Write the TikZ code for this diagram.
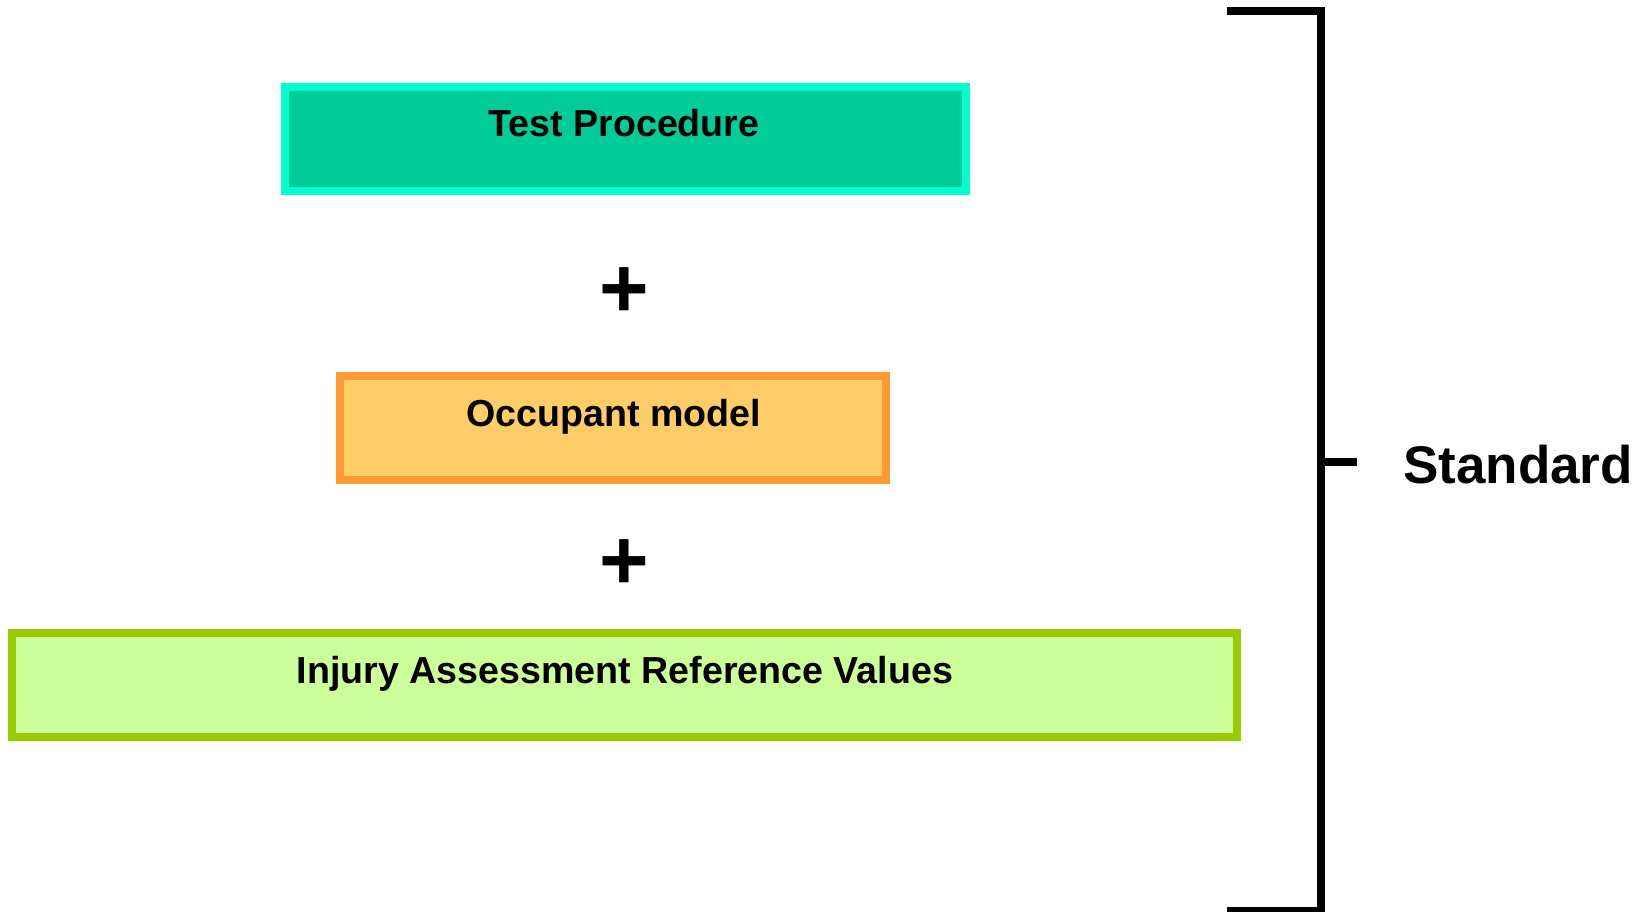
\documentclass[tikz,border=0pt]{standalone}
\usepackage{fontspec}
\setmainfont{Liberation Sans}
\definecolor{tpfill}{RGB}{0,204,153}
\definecolor{tpdraw}{RGB}{0,255,204}
\definecolor{omfill}{RGB}{255,204,102}
\definecolor{omdraw}{RGB}{255,153,51}
\definecolor{iafill}{RGB}{204,255,153}
\definecolor{iadraw}{RGB}{153,204,0}
\tikzset{
  boxrect/.style={line width=8pt},
  boxlabel/.style={anchor=base,inner sep=0pt,font=\fontsize{37.6}{44}\selectfont\bfseries},
  plussign/.style={anchor=center,inner sep=0pt,font=\fontsize{85}{90}\selectfont\bfseries},
  bracketline/.style={line width=7.7pt,line join=miter},
  stdlabel/.style={anchor=base west,inner sep=0pt,font=\fontsize{53}{60}\selectfont\bfseries}
}
\begin{document}
\begin{tikzpicture}[x=1pt,y=-1pt]
\useasboundingbox[fill=white] (0,0) rectangle (1647,912);
% boxes
\draw[boxrect,draw=tpdraw,fill=tpfill] (285,87) rectangle (966,191);
\node[boxlabel] (tp) at (624,137) {Test Procedure};
\node[plussign] (p1) at (624.5,293) {+};
\draw[boxrect,draw=omdraw,fill=omfill] (340,376) rectangle (886,480);
\node[boxlabel] (om) at (614,426) {Occupant model};
\node[plussign] (p2) at (624.5,565) {+};
\draw[boxrect,draw=iadraw,fill=iafill] (12,633) rectangle (1237,737);
\node[boxlabel] (ia) at (625,683) {Injury Assessment Reference Values};
% bracket
\coordinate (bt) at (1226.7,11);
\coordinate (bb) at (1226.7,911);
\coordinate (tk) at (1357.3,462);
\draw[bracketline] (bt) -- (1321,11) -- (1321,911) -- (bb);
\draw[bracketline] (1321,462) -- (tk);
\node[stdlabel] (std) at (1403,483) {Standard};
\end{tikzpicture}
\end{document}
